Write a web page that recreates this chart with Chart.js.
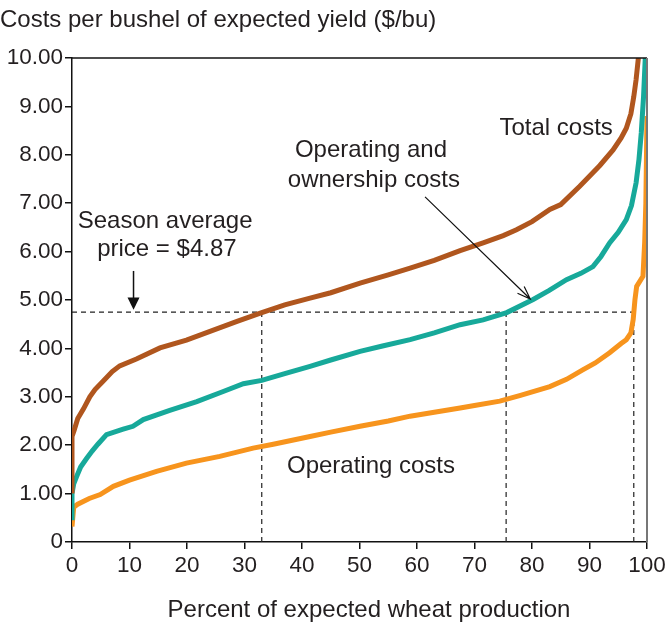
<!DOCTYPE html>
<html>
<head>
    <title>Wheat production costs</title>
    <script src="https://cdn.jsdelivr.net/npm/chart.js"></script>
    <style>
        body { margin: 0; background: #fff; }
        #wrap { width: 671px; height: 628px; }
    </style>
</head>
<body>
    <div id="wrap"><canvas id="chart" width="671" height="628"></canvas></div>

    <script>
        // percent of expected wheat production (x) and $/bu (y)
        const totalPct = [0, 0, 0.35, 1, 2, 3.1, 4, 5.4, 7, 8.3, 11.2, 15.3, 19.9, 24, 28.7, 33, 37, 41.4, 45, 50.1, 55, 58.8, 63, 67.5, 71.5, 75, 77.3, 80, 83.1, 85, 88.3, 91.8, 94.1, 95.5, 96.4, 97.2, 97.7, 98.1, 98.5];
        const totalCost = [1.0, 2.18, 2.3, 2.55, 2.75, 3.0, 3.15, 3.32, 3.52, 3.64, 3.78, 4.01, 4.17, 4.35, 4.56, 4.74, 4.9, 5.04, 5.15, 5.35, 5.52, 5.66, 5.82, 6.02, 6.18, 6.33, 6.45, 6.62, 6.87, 6.97, 7.35, 7.78, 8.1, 8.35, 8.55, 8.85, 9.2, 9.55, 10.0];

        const ownPct = [0, 0, 0.3, 0.8, 1.5, 2.5, 3.5, 4.5, 6.0, 8.9, 10.6, 12.4, 17, 21.7, 26.3, 29.8, 33, 37, 41.4, 45, 50.1, 54, 58.8, 63, 67.5, 71.5, 75.6, 80.2, 83, 86, 88.5, 90.6, 92, 93.5, 95, 96.4, 97.3, 98.1, 98.6, 99, 99.4, 99.7];
        const ownCost = [0.45, 1.0, 1.2, 1.35, 1.55, 1.72, 1.88, 2.02, 2.22, 2.33, 2.39, 2.53, 2.72, 2.9, 3.11, 3.27, 3.34, 3.48, 3.63, 3.76, 3.94, 4.05, 4.18, 4.32, 4.49, 4.59, 4.74, 5.01, 5.2, 5.42, 5.55, 5.69, 5.9, 6.18, 6.4, 6.66, 6.95, 7.42, 7.9, 8.45, 9.2, 10.0];

        const opPct = [0, 0.3, 1, 3, 4.9, 7.2, 10, 14.7, 19.9, 25.7, 31.5, 35, 41.4, 45, 50.1, 55, 58.8, 63, 67.5, 70, 74.4, 78, 83.1, 86, 88.9, 91, 93.5, 95.5, 96.4, 97.2, 97.6, 97.9, 98.2, 99.3, 99.6, 99.8, 100];
        const opCost = [0.32, 0.72, 0.78, 0.9, 0.98, 1.15, 1.28, 1.46, 1.63, 1.77, 1.94, 2.02, 2.18, 2.27, 2.39, 2.5, 2.6, 2.68, 2.77, 2.82, 2.91, 3.03, 3.21, 3.36, 3.56, 3.7, 3.91, 4.1, 4.18, 4.32, 4.6, 5.0, 5.28, 5.49, 6.2, 7.0, 8.8];

        // season average price line (drawn level) and where each curve crosses it
        const priceLevel = 4.75;
        const crossPct = [33.0, 75.5, 97.7];

        const xTicks = [0, 10, 20, 30, 40, 50, 60, 70, 80, 90, 100];
        const yTicks = [0, 1, 2, 3, 4, 5, 6, 7, 8, 9, 10];

        const FONT = '"Liberation Sans", Arial, Helvetica, sans-serif';
        const TXT = '#231f20';

        const pts = (xs, ys) => xs.map((x, i) => ({ x: x, y: ys[i] }));

        const curve = (label, xs, ys, color) => ({
            label: label,
            data: pts(xs, ys),
            borderColor: color,
            borderWidth: 5,
            pointRadius: 0,
            tension: 0,
            fill: false
        });

        const dashed = (label, data) => ({
            label: label,
            data: data,
            borderColor: '#222',
            borderWidth: 1.2,
            borderDash: [5, 4],
            pointRadius: 0,
            fill: false
        });

        const datasets = [
            curve('Total costs', totalPct, totalCost, '#b0561e'),
            curve('Operating and ownership costs', ownPct, ownCost, '#17a99a'),
            curve('Operating costs', opPct, opCost, '#f7941d'),
            dashed('price', [{ x: 0, y: priceLevel }, { x: crossPct[2], y: priceLevel }])
        ];
        crossPct.forEach(p => {
            datasets.push(dashed('cross ' + p, [{ x: p, y: 0 }, { x: p, y: priceLevel }]));
        });

        // text, arrows, top/right frame
        const notes = {
            id: 'notes',
            afterDraw(chart) {
                const ctx = chart.ctx;
                const xs = chart.scales.x, ys = chart.scales.y;
                const X = v => xs.getPixelForValue(v);
                const Y = v => ys.getPixelForValue(v);
                const a = chart.chartArea;

                ctx.save();
                // frame
                ctx.strokeStyle = '#111';
                ctx.lineWidth = 1.5;
                ctx.beginPath();
                ctx.moveTo(a.left, a.top);
                ctx.lineTo(a.right, a.top);
                ctx.stroke();
                ctx.strokeStyle = '#777';
                ctx.lineWidth = 2;
                ctx.beginPath();
                ctx.moveTo(a.right, a.top);
                ctx.lineTo(a.right, a.bottom);
                ctx.stroke();

                ctx.fillStyle = TXT;
                ctx.font = '24px ' + FONT;
                ctx.textBaseline = 'middle';

                ctx.textAlign = 'left';
                ctx.fillText('Costs per bushel of expected yield ($/bu)', 0, 20);
                ctx.textAlign = 'center';
                ctx.fillText('Percent of expected wheat production', 369, 610);

                ctx.fillText('Season average', X(16.2), Y(6.62));
                ctx.fillText('price = $4.87', X(16.5), Y(6.04));
                ctx.fillText('Operating and', X(52.0), Y(8.09));
                ctx.fillText('ownership costs', X(52.5), Y(7.47));
                ctx.fillText('Total costs', X(84.2), Y(8.54));
                ctx.fillText('Operating costs', X(52.0), Y(1.56));

                // price arrow
                const ax = X(10.7);
                ctx.strokeStyle = '#111';
                ctx.lineWidth = 1.5;
                ctx.beginPath();
                ctx.moveTo(ax, Y(5.6));
                ctx.lineTo(ax, Y(5.0));
                ctx.stroke();
                ctx.fillStyle = '#111';
                ctx.beginPath();
                ctx.moveTo(ax - 6, Y(5.05));
                ctx.lineTo(ax + 6, Y(5.05));
                ctx.lineTo(ax, Y(4.8));
                ctx.closePath();
                ctx.fill();

                // leader to the ownership curve
                const x1 = X(61.4), y1 = Y(7.13), x2 = X(79.7), y2 = Y(5.02);
                ctx.lineWidth = 1.2;
                ctx.beginPath();
                ctx.moveTo(x1, y1);
                ctx.lineTo(x2, y2);
                const ang = Math.atan2(y2 - y1, x2 - x1);
                const h = 14;
                ctx.moveTo(x2 - h * Math.cos(ang - 0.35), y2 - h * Math.sin(ang - 0.35));
                ctx.lineTo(x2, y2);
                ctx.lineTo(x2 - h * Math.cos(ang + 0.35), y2 - h * Math.sin(ang + 0.35));
                ctx.stroke();
                ctx.restore();
            }
        };

        const chart = new Chart(document.getElementById('chart'), {
            type: 'line',
            data: { datasets: datasets },
            options: {
                responsive: false,
                animation: false,
                layout: { padding: { top: 58, right: 24, left: 0, bottom: 0 } },
                plugins: { legend: { display: false }, tooltip: { enabled: false } },
                scales: {
                    x: {
                        type: 'linear',
                        min: 0,
                        max: 100,
                        afterFit: s => { s.height = 86; },
                        afterBuildTicks: s => { s.ticks = xTicks.map(v => ({ value: v })); },
                        border: { display: true, color: '#111', width: 1.5 },
                        grid: { drawOnChartArea: false, drawTicks: true, tickLength: 7, color: '#111', lineWidth: 1.5 },
                        ticks: { color: TXT, font: { family: FONT, size: 22.5 }, padding: 3, maxRotation: 0 }
                    },
                    y: {
                        min: 0,
                        max: 10,
                        afterFit: s => { s.width = 72; },
                        afterBuildTicks: s => { s.ticks = yTicks.map(v => ({ value: v })); },
                        border: { display: true, color: '#111', width: 1.5 },
                        grid: { drawOnChartArea: false, drawTicks: true, tickLength: 7, color: '#111', lineWidth: 1.5 },
                        ticks: {
                            color: TXT,
                            font: { family: FONT, size: 22.5 },
                            padding: 2,
                            callback: v => v === 0 ? '0' : v.toFixed(2)
                        }
                    }
                }
            },
            plugins: [notes]
        });
    </script>
</body>
</html>
